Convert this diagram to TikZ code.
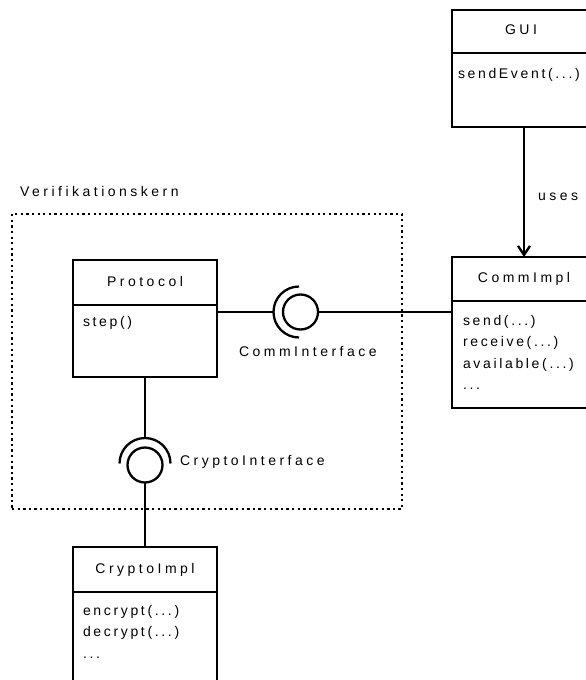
\documentclass[tikz,border=0pt]{standalone}
\usepackage{fontspec}
\newfontfamily\umlfamily[LetterSpace=25]{Liberation Sans}
\newfontfamily\umlopfamily[LetterSpace=19]{Liberation Sans}
\newcommand\umlfont{\umlfamily\fontsize{14}{21.5}\selectfont}
\newcommand\umlopfont{\umlopfamily\fontsize{14}{21.5}\selectfont}
\usetikzlibrary{arrows.meta}

\begin{document}
\begin{tikzpicture}[x=1pt, y=-1pt,
  line width=2.3pt,
  every node/.style={outer sep=0pt},
  classbox/.style={draw, rectangle, inner sep=0pt, anchor=north west},
  classtitle/.style={anchor=base, inner sep=0pt, font=\umlfont},
  members/.style={anchor=base west, inner sep=0pt, font=\umlopfont},
  lbl/.style={anchor=base west, inner sep=0pt, font=\umlfont},
  ball/.style={draw, circle, minimum size=35pt, inner sep=0pt},
  frame/.style={draw, rectangle, inner sep=0pt, anchor=north west,
                line width=2.2pt, dash pattern=on 2.3pt off 3.3pt},
  usesarrow/.style={-{Straight Barb[length=9pt,width=12pt]}}
]
\useasboundingbox (0,0) rectangle (586,680);
\clip (0,0) rectangle (586,680);

% package boundary of the verification core
\node[frame, minimum width=390pt, minimum height=295pt] (kern) at (12,214) {};
\node[lbl] (kernlbl) at (20,196.5) {Verifikationskern};

% class GUI
\node[classbox, minimum width=144pt, minimum height=117pt] (gui) at (452,10) {};
\draw ([yshift=-43pt]gui.north west) -- ([yshift=-43pt]gui.north east);
\node[classtitle] (guititle) at ([xshift=-3pt,yshift=-24.7pt]gui.north) {GUI};
\node[members] (guiops) at ([xshift=6pt,yshift=-68pt]gui.north west)
  {\begin{tabular}[t]{@{}l@{}}sendEvent(...)\end{tabular}};

% class CommImpl
\node[classbox, minimum width=144pt, minimum height=151pt] (commimpl) at (452,257) {};
\draw ([yshift=-44pt]commimpl.north west) -- ([yshift=-44pt]commimpl.north east);
\node[classtitle] (commtitle) at ([yshift=-25.5pt]commimpl.north) {CommImpl};
\node[members] (commops) at ([xshift=11pt,yshift=-68pt]commimpl.north west)
  {\begin{tabular}[t]{@{}l@{}}send(...)\\receive(...)\\available(...)\\...\end{tabular}};

% class Protocol
\node[classbox, minimum width=144pt, minimum height=117pt] (protocol) at (73,260) {};
\draw ([yshift=-45pt]protocol.north west) -- ([yshift=-45pt]protocol.north east);
\node[classtitle] (prottitle) at ([yshift=-26pt]protocol.north) {Protocol};
\node[members] (protops) at ([xshift=10pt,yshift=-66.5pt]protocol.north west)
  {\begin{tabular}[t]{@{}l@{}}step()\end{tabular}};

% class CryptoImpl
\node[classbox, minimum width=144pt, minimum height=150pt] (cryptoimpl) at (73,547) {};
\draw ([yshift=-45pt]cryptoimpl.north west) -- ([yshift=-45pt]cryptoimpl.north east);
\node[classtitle] (cryptotitle) at ([yshift=-26.3pt]cryptoimpl.north) {CryptoImpl};
\node[members] (cryptoops) at ([xshift=10pt,yshift=-68pt]cryptoimpl.north west)
  {\begin{tabular}[t]{@{}l@{}}encrypt(...)\\decrypt(...)\\...\end{tabular}};

% CommInterface: provided ball with required socket
\node[ball] (commball) at (300.5,312) {};
\coordinate (commsock) at (273.5,312);
\draw (299,286.5) arc[start angle=270, end angle=90, radius=25.5];
\node[lbl] (commlbl) at (239,356.5) {CommInterface};

% CryptoInterface: provided ball with required socket
\node[ball] (cryptoball) at (145,465) {};
\coordinate (cryptosock) at (145,438);
\draw (170.5,463.5) arc[start angle=360, end angle=180, radius=25.5];
\node[lbl] (cryptolbl) at (180,465) {CryptoInterface};

% connectors
\draw (protocol.east |- commsock) -- (commsock);
\draw (commball.east) -- (commimpl.west |- commball.east);
\draw (protocol.south) -- (cryptosock);
\draw (cryptoball.south) -- (cryptoimpl.north);
\draw[usesarrow] (gui.south) -- (commimpl.north);
\node[lbl] (useslbl) at (538,200) {uses};
\end{tikzpicture}
\end{document}
